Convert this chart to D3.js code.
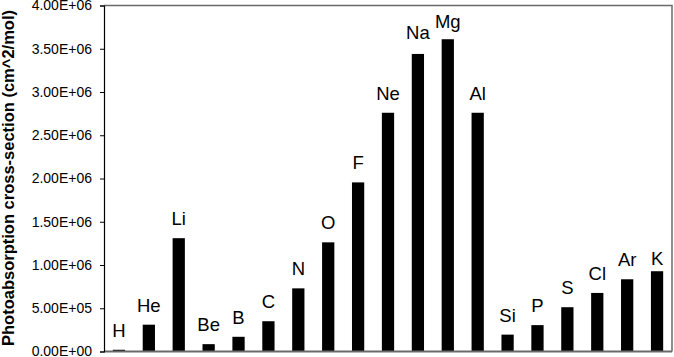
<!DOCTYPE html>
<html><head><meta charset="utf-8">
<script src="https://cdn.jsdelivr.net/npm/d3@7"></script>
<style>body{margin:0;background:#fff;} svg{display:block;}</style>
</head><body>
<svg id="chart" width="674" height="357"></svg>
<script>
const elements = ["H","He","Li","Be","B","C","N","O","F","Ne","Na","Mg","Al","Si","P","S","Cl","Ar","K"];
const crossSection = [20000, 310000, 1310000, 85000, 170000, 350000, 730000, 1262000, 1955000, 2760000, 3440000, 3610000, 2760000, 195000, 305000, 512000, 677000, 835000, 928000];
const yTicks = [0, 500000, 1000000, 1500000, 2000000, 2500000, 3000000, 3500000, 4000000];
const yTickLabels = ["0.00E+00","5.00E+05","1.00E+06","1.50E+06","2.00E+06","2.50E+06","3.00E+06","3.50E+06","4.00E+06"];
const yTitle = "Photoabsorption cross-section (cm^2/mol)";

const svg = d3.select("#chart");
const pL = 104, pR = 672, pT = 5.5, pB = 351.5;
const x = d3.scaleBand().domain(elements).range([pL, pR]).paddingInner(0.59).paddingOuter(0.295);
const y = d3.scaleLinear().domain([0, 4000000]).range([pB, pT]);

// bars
svg.append("g").selectAll("rect").data(elements).join("rect")
  .attr("x", d => x(d))
  .attr("width", x.bandwidth())
  .attr("y", (d,i) => y(crossSection[i]))
  .attr("height", (d,i) => pB - y(crossSection[i]))
  .attr("fill", "#000");

// frame
svg.append("path")
  .attr("d", `M${pL},${pT}H${pR}V${pB}`)
  .attr("fill","none").attr("stroke","#6a6a6a").attr("stroke-width",1.5);
svg.append("line").attr("x1",pL).attr("x2",pR).attr("y1",pB).attr("y2",pB)
  .attr("stroke","#6a6a6a").attr("stroke-width",2);

// y axis
const yAxis = d3.axisLeft(y).tickValues(yTicks)
  .tickFormat((d,i) => yTickLabels[i]).tickSize(4).tickPadding(8);
const ga = svg.append("g").attr("transform", `translate(${pL},0)`).call(yAxis);
ga.select(".domain").attr("stroke","#000").attr("stroke-width",1.2);
ga.selectAll(".tick line").attr("stroke","#000");
ga.selectAll(".tick text").attr("font-family","Liberation Sans, Arial, sans-serif")
  .attr("font-size", 14).attr("fill","#000");

// bar labels
const labelGap = {K: 6, Mg: 11, Na: 14.5};
svg.append("g").selectAll("text").data(elements).join("text")
  .attr("x", d => x(d) + x.bandwidth()/2)
  .attr("y", (d,i) => y(crossSection[i]) - (labelGap[d] !== undefined ? labelGap[d] : 13))
  .attr("text-anchor","middle")
  .attr("font-family","Liberation Sans, Arial, sans-serif")
  .attr("font-size", 18.5)
  .attr("fill","#000")
  .text(d => d);

// y title
svg.append("text")
  .attr("transform", `translate(13.5,178) rotate(-90)`)
  .attr("text-anchor","middle")
  .attr("font-family","Liberation Sans, Arial, sans-serif")
  .attr("font-weight","bold")
  .attr("font-size", 16.5)
  .attr("fill","#000")
  .text(yTitle);
</script>
</body></html>
